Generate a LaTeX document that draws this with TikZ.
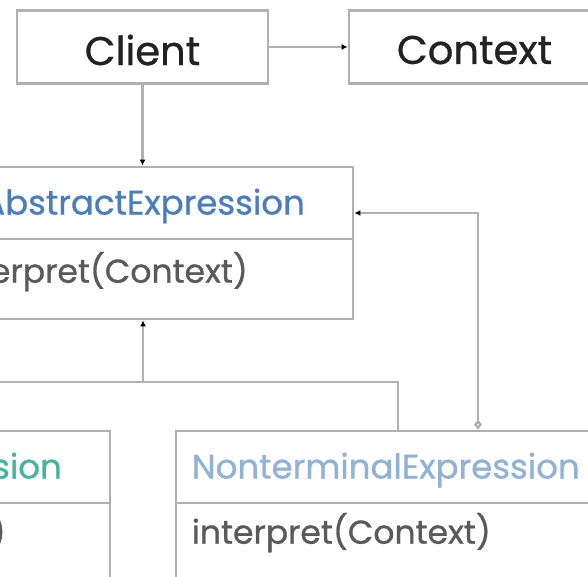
\documentclass[tikz,border=0pt]{standalone}
\usepackage{fontspec}
\setmainfont{Poppins}[FakeBold=0.8]
\usetikzlibrary{arrows.meta, positioning}
\definecolor{boxgray}{HTML}{B0B0B0}
\definecolor{namecol}{HTML}{222222}
\definecolor{methodcol}{HTML}{5A5A5A}
\definecolor{absblue}{HTML}{4A7DBE}
\definecolor{nonblue}{HTML}{8FB2D6}
\definecolor{termgreen}{HTML}{46B49A}

\begin{document}
\begin{tikzpicture}[x=1pt, y=-1pt,
    box/.style={draw=boxgray, line width=2.8pt, fill=white, inner sep=0pt},
    conn/.style={draw=boxgray, line width=2.3pt},
    tip/.style={-{Latex[length=6pt,width=6pt,color=black]}},
    cname/.style={inner sep=0pt, font=\fontsize{40}{46}\selectfont, text=namecol},
    title/.style={anchor=west, inner sep=0pt, font=\fontsize{34}{39}\selectfont},
    method/.style={anchor=west, inner sep=0pt, text=methodcol, font=\fontsize{33}{38}\selectfont}]
    \useasboundingbox (0,0) rectangle (588,577);
    \clip (0,0) rectangle (588,577);

    % top row
    \node[box, minimum width=251pt, minimum height=73pt] (client) at (142.5,47) {};
    \node[box, minimum width=251pt, minimum height=73pt] (context) at (474.5,47) {};
    \node[cname] (clientname) at ([yshift=-3pt]client.center) {Client};
    \node[cname] (contextname) at ([yshift=-3pt]context.center) {Context};

    % abstract class
    \node[box, minimum width=420pt, minimum height=72pt] (abshead) at (143,203) {};
    \node[box, minimum width=420pt, minimum height=80pt, below=-2.8pt of abshead] (absbody) {};
    \node[title, text=absblue, anchor=east] (abstitle) at (305,206) {AbstractExpression};
    \node[method] (absmeth) at ([shift={(17pt,-34pt)}]absbody.north west) {interpret(Context)};

    % subclasses
    \node[box, minimum width=440pt, minimum height=72pt] (termhead) at (-110,467) {};
    \node[box, minimum width=440pt, minimum height=100pt, below=-2.8pt of termhead] (termbody) {};
    \node[title, text=termgreen, anchor=east] (termtitle) at (62,470) {TerminalExpression};
    \node[method, anchor=east] (termmeth) at (6,533) {interpret(Context)};

    \node[box, minimum width=444pt, minimum height=72pt] (nonhead) at (398,467) {};
    \node[box, minimum width=444pt, minimum height=100pt, below=-2.8pt of nonhead] (nonbody) {};
    \node[title, text=nonblue] (nontitle) at ([shift={(17pt,-3pt)}]nonhead.west) {NonterminalExpression};
    \node[method] (nonmeth) at ([shift={(17pt,-31pt)}]nonbody.north west) {interpret(Context)};

    % connectors
    \coordinate (joint) at (143,382);
    \coordinate (aggr) at (478,213);
    \draw[conn, tip] (client) -- (context);
    \draw[conn, tip] (client.south) -- (client.south |- abshead.north);
    \draw[conn, tip] (joint) -- (absbody.south);
    \draw[conn] (termhead.north) |- (joint) -| (nonhead.north);
    \draw[conn, {Diamond[open,length=10pt,width=8pt,fill=white]}-{Latex[length=6pt,width=6pt,color=black]}]
        (nonhead.north -| aggr) |- (abshead.east |- aggr);
\end{tikzpicture}
\end{document}
